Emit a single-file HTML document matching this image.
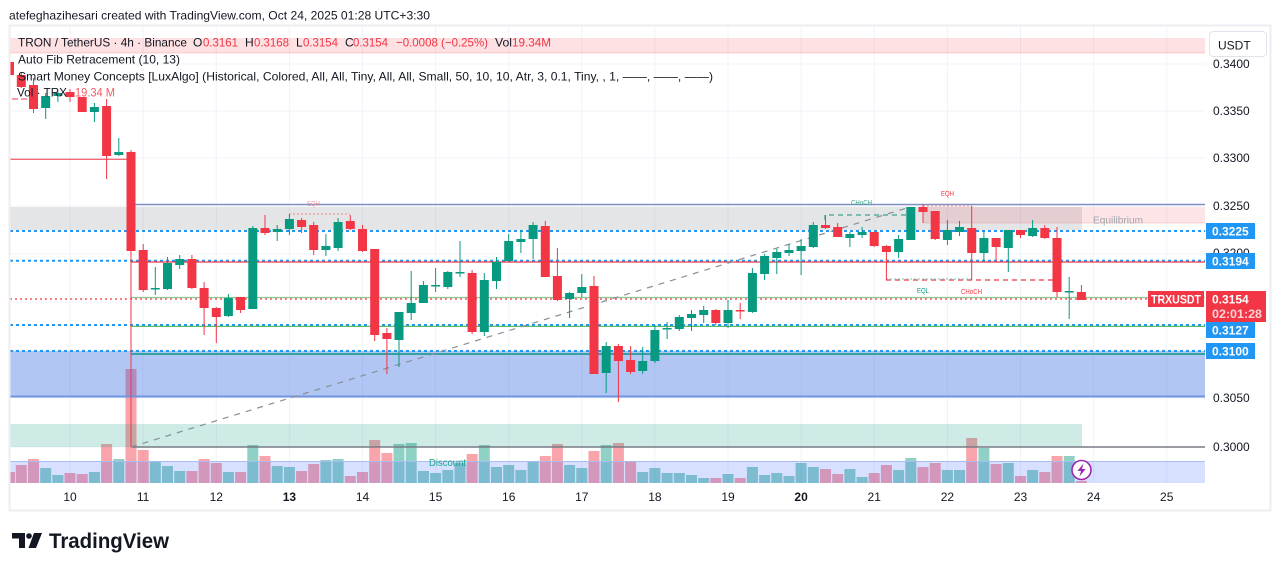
<!DOCTYPE html>
<html><head><meta charset="utf-8"><style>
html,body{margin:0;padding:0;background:#fff;}
svg{display:block;font-family:"Liberation Sans",Arial,sans-serif;}
</style></head><body>
<svg width="1281" height="571" viewBox="0 0 1281 571" xmlns="http://www.w3.org/2000/svg">
<rect width="1281" height="571" fill="#fff"/>
<!-- grid -->
<g stroke="#f0f3fa" stroke-width="1">
<path d="M10 64H1205M10 111H1205M10 158H1205M10 206H1205M10 254H1205M10 302H1205M10 350H1205M10 398H1205M10 447H1205"/>
<path d="M70 26V483M143.1 26V483M216.3 26V483M289.4 26V483M362.5 26V483M435.6 26V483M508.7 26V483M581.8 26V483M654.9 26V483M728 26V483M801.1 26V483M874.2 26V483M947.4 26V483M1020.5 26V483M1093.6 26V483M1166.7 26V483"/>
</g>
<!-- top fib band -->
<rect x="10" y="38" width="1195" height="15" fill="rgba(242,54,69,0.15)"/>
<line x1="10" y1="53" x2="1205" y2="53" stroke="rgba(242,54,69,0.2)"/>
<!-- volume -->
<g fill="rgba(242,54,69,0.45)">
<rect x="10" y="472" width="5" height="11"/>
<rect x="15.8" y="465" width="11" height="18"/><rect x="28" y="459" width="11" height="24"/><rect x="64.5" y="473" width="11" height="10"/><rect x="76.7" y="474" width="11" height="9"/><rect x="101.1" y="444" width="11" height="39"/><rect x="125.5" y="369" width="11" height="114"/><rect x="137.7" y="450" width="11" height="33"/><rect x="186.4" y="471" width="11" height="12"/><rect x="198.6" y="459" width="11" height="24"/><rect x="210.8" y="463" width="11" height="20"/><rect x="235.1" y="472" width="11" height="11"/><rect x="259.5" y="456" width="11" height="27"/><rect x="296.1" y="471" width="11" height="12"/><rect x="308.2" y="464" width="11" height="19"/><rect x="344.8" y="476" width="11" height="7"/><rect x="357" y="472" width="11" height="11"/><rect x="369.2" y="440" width="11" height="43"/><rect x="381.4" y="453" width="11" height="30"/><rect x="466.6" y="454" width="11" height="29"/><rect x="539.8" y="456" width="11" height="27"/><rect x="551.9" y="444" width="11" height="39"/><rect x="588.5" y="451" width="11" height="32"/><rect x="612.9" y="443" width="11" height="40"/><rect x="625.1" y="462" width="11" height="21"/><rect x="710.3" y="478" width="11" height="5"/><rect x="734.7" y="478" width="11" height="5"/><rect x="820" y="469" width="11" height="14"/><rect x="832.2" y="474" width="11" height="9"/><rect x="868.7" y="473" width="11" height="10"/><rect x="880.9" y="465" width="11" height="18"/><rect x="917.5" y="467" width="11" height="16"/><rect x="929.7" y="463" width="11" height="20"/><rect x="966.2" y="438" width="11" height="45"/><rect x="990.6" y="464" width="11" height="19"/><rect x="1015" y="476" width="11" height="7"/><rect x="1039.3" y="472" width="11" height="11"/><rect x="1051.5" y="456" width="11" height="27"/><rect x="1075.9" y="481" width="11" height="2"/>
</g>
<g fill="rgba(8,153,129,0.45)">
<rect x="40.2" y="468" width="11" height="15"/><rect x="52.4" y="475" width="11" height="8"/><rect x="88.9" y="472" width="11" height="11"/><rect x="113.3" y="459" width="11" height="24"/><rect x="149.8" y="462" width="11" height="21"/><rect x="162" y="466" width="11" height="17"/><rect x="174.2" y="471" width="11" height="12"/><rect x="222.9" y="472" width="11" height="11"/><rect x="247.3" y="445" width="11" height="38"/><rect x="271.7" y="466" width="11" height="17"/><rect x="283.9" y="467" width="11" height="16"/><rect x="320.4" y="460" width="11" height="23"/><rect x="332.6" y="459" width="11" height="24"/><rect x="393.5" y="444" width="11" height="39"/><rect x="405.7" y="443" width="11" height="40"/><rect x="417.9" y="471" width="11" height="12"/><rect x="430.1" y="473" width="11" height="10"/><rect x="442.3" y="470" width="11" height="13"/><rect x="454.5" y="463" width="11" height="20"/><rect x="478.8" y="445" width="11" height="38"/><rect x="491" y="467" width="11" height="16"/><rect x="503.2" y="465" width="11" height="18"/><rect x="515.4" y="470" width="11" height="13"/><rect x="527.6" y="461" width="11" height="22"/><rect x="564.1" y="465" width="11" height="18"/><rect x="576.3" y="468" width="11" height="15"/><rect x="600.7" y="445" width="11" height="38"/><rect x="637.2" y="472" width="11" height="11"/><rect x="649.4" y="468" width="11" height="15"/><rect x="661.6" y="473" width="11" height="10"/><rect x="673.8" y="473" width="11" height="10"/><rect x="686" y="475" width="11" height="8"/><rect x="698.2" y="478" width="11" height="5"/><rect x="722.5" y="474" width="11" height="9"/><rect x="746.9" y="467" width="11" height="16"/><rect x="759.1" y="475" width="11" height="8"/><rect x="771.3" y="473" width="11" height="10"/><rect x="783.5" y="476" width="11" height="7"/><rect x="795.6" y="463" width="11" height="20"/><rect x="807.8" y="467" width="11" height="16"/><rect x="844.4" y="469" width="11" height="14"/><rect x="856.6" y="477" width="11" height="6"/><rect x="893.1" y="470" width="11" height="13"/><rect x="905.3" y="458" width="11" height="25"/><rect x="941.9" y="470" width="11" height="13"/><rect x="954" y="470" width="11" height="13"/><rect x="978.4" y="448" width="11" height="35"/><rect x="1002.8" y="463" width="11" height="20"/><rect x="1027.1" y="470" width="11" height="13"/><rect x="1063.7" y="456" width="11" height="27"/>
</g>
<!-- zones -->
<rect x="10" y="207" width="1072" height="23" fill="rgba(120,123,134,0.2)"/>
<rect x="923" y="207" width="282" height="16" fill="rgba(242,54,69,0.13)"/>
<line x1="923" y1="223" x2="1205" y2="223" stroke="rgba(242,54,69,0.18)"/>
<rect x="10" y="351" width="1195" height="46" fill="rgba(45,100,225,0.37)"/>
<rect x="10" y="424" width="1072" height="23" fill="rgba(8,153,129,0.2)"/>
<rect x="10" y="461" width="1195" height="22" fill="rgba(41,98,255,0.19)"/>
<line x1="10" y1="461.5" x2="1205" y2="461.5" stroke="#a9bdf2" stroke-width="1"/>
<!-- lines -->
<line x1="10" y1="159.3" x2="130" y2="159.3" stroke="#f23645" stroke-width="1"/>
<line x1="135" y1="204.5" x2="1205" y2="204.5" stroke="#8390c4" stroke-width="1.5"/>
<g stroke="#2196f3" stroke-width="2" stroke-dasharray="3 3">
<line x1="10" y1="231" x2="1205" y2="231"/>
<line x1="10" y1="260.7" x2="1205" y2="260.7"/>
<line x1="10" y1="325" x2="1205" y2="325"/>
<line x1="10" y1="351" x2="1205" y2="351"/>
</g>
<line x1="131" y1="262" x2="1205" y2="262" stroke="#f23645" stroke-width="1.2"/>
<line x1="131" y1="297.5" x2="1205" y2="297.5" stroke="#8cc78e" stroke-width="1.2"/>
<line x1="131" y1="326.3" x2="1205" y2="326.3" stroke="#4caf50" stroke-width="1.2"/>
<line x1="131" y1="354" x2="1205" y2="354" stroke="#089981" stroke-width="1.5"/>
<line x1="10" y1="396.5" x2="1205" y2="396.5" stroke="#6f95e0" stroke-width="2"/>
<line x1="131" y1="447" x2="1205" y2="447" stroke="#787b86" stroke-width="1.5"/>
<line x1="10" y1="299" x2="1148" y2="299" stroke="#f23645" stroke-width="1.2" stroke-dasharray="2 3"/>
<line x1="131" y1="447" x2="910" y2="207" stroke="#8a8d96" stroke-width="1.2" stroke-dasharray="6 6"/>
<!-- SMC -->
<line x1="12" y1="99" x2="27" y2="99" stroke="#f23645" stroke-width="1" stroke-dasharray="6 3"/>
<line x1="289" y1="214" x2="350" y2="214" stroke="#f29ba3" stroke-width="1.2" stroke-dasharray="2 2"/>
<path d="M825 220V215H910" fill="none" stroke="#3aa58f" stroke-width="1.2" stroke-dasharray="5 4"/>
<line x1="923" y1="206" x2="972" y2="206" stroke="#f29ba3" stroke-width="1.2" stroke-dasharray="2 2"/>
<line x1="886" y1="280" x2="1055" y2="280" stroke="#f23645" stroke-width="1.2" stroke-dasharray="5 4"/>
<line x1="886" y1="279" x2="972" y2="279" stroke="#8ed2c4" stroke-width="1.2" stroke-dasharray="2 2"/>
<!-- candles -->
<rect x="10" y="62" width="4" height="13" fill="#f23645"/>
<path fill="none" stroke="#f23645" stroke-width="1" d="M21.3 72V88M33.5 78V113M70 89V102M82.2 97V112M106.6 99V179M131 150V447M143.2 244V292M191.9 255V289M204.1 282V335M216.3 307V343M240.6 297V313M265 215V235M301.6 218V233M313.7 222V255M350.3 215V230M362.5 225V252M374.7 249V341M386.9 328V374M472.1 270V334M545.3 221V277M557.4 248V301M594 276V374M618.4 344V402M630.6 346V374M715.8 309V325M740.2 303V319M825.5 215V229M837.7 223V237M874.2 232V247M886.4 245V280M923 204V223M935.2 211V240M971.7 206V280M996.1 238V261M1020.5 230V238M1044.8 225V239M1057 227V297M1081.4 285V300"/>
<g fill="#f23645">
<rect x="16.8" y="75" width="9" height="12"/><rect x="29" y="85" width="9" height="24"/><rect x="65.5" y="92" width="9" height="5"/><rect x="77.7" y="97" width="9" height="15"/><rect x="102.1" y="106" width="9" height="50"/><rect x="126.5" y="152" width="9" height="99"/><rect x="138.7" y="250" width="9" height="40"/><rect x="187.4" y="259" width="9" height="29"/><rect x="199.6" y="288" width="9" height="20"/><rect x="211.8" y="308" width="9" height="9"/><rect x="236.1" y="297" width="9" height="13"/><rect x="260.5" y="228" width="9" height="5"/><rect x="297.1" y="220" width="9" height="7"/><rect x="309.2" y="225" width="9" height="25"/><rect x="345.8" y="221" width="9" height="8"/><rect x="358" y="229" width="9" height="22"/><rect x="370.2" y="249" width="9" height="86"/><rect x="382.4" y="333" width="9" height="6"/><rect x="467.6" y="273" width="9" height="59"/><rect x="540.8" y="226" width="9" height="51"/><rect x="552.9" y="276" width="9" height="24"/><rect x="589.5" y="286" width="9" height="88"/><rect x="613.9" y="346" width="9" height="15"/><rect x="626.1" y="360" width="9" height="12"/><rect x="711.3" y="310" width="9" height="13"/><rect x="735.7" y="310" width="9" height="1.5"/><rect x="821" y="225" width="9" height="3"/><rect x="833.2" y="227" width="9" height="10"/><rect x="869.7" y="232" width="9" height="14"/><rect x="881.9" y="246" width="9" height="6"/><rect x="918.5" y="207" width="9" height="5"/><rect x="930.7" y="211" width="9" height="28"/><rect x="967.2" y="228" width="9" height="25"/><rect x="991.6" y="238" width="9" height="9"/><rect x="1016" y="230" width="9" height="5"/><rect x="1040.3" y="228" width="9" height="10"/><rect x="1052.5" y="238" width="9" height="54"/><rect x="1076.9" y="292" width="9" height="8"/>
</g>
<path fill="none" stroke="#089981" stroke-width="1" d="M45.7 93V119M57.9 92V102M94.4 103V122M118.8 138V156M155.3 267V295M167.5 257V290M179.7 255V269M228.4 294V317M252.8 226V309M277.2 225V241M289.4 214V235M325.9 234V256M338.1 218V251M399 312V367M411.2 271V320M423.4 281V303M435.6 268V292M447.8 271V289M460 241V277M484.3 273V336M496.5 257V289M508.7 234V261M520.9 230V253M533.1 222V259M569.6 292V318M581.8 274V297M606.2 342V393M642.7 347V374M654.9 325V363M667.1 322V339M679.3 315V331M691.5 310V331M703.7 306V323M728 300V328M752.4 268V313M764.6 254V280M776.8 249V274M789 244V256M801.1 239V275M813.3 222V248M849.9 232V247M862.1 227V238M898.6 235V258M910.8 207V240M947.4 220V245M959.5 221V236M983.9 231V261M1008.3 230V272M1032.6 220V237M1069.2 277V319"/>
<g fill="#089981">
<rect x="41.2" y="96" width="9" height="12"/><rect x="53.4" y="93" width="9" height="3"/><rect x="89.9" y="107" width="9" height="5"/><rect x="114.3" y="152" width="9" height="3"/><rect x="150.8" y="288" width="9" height="1.5"/><rect x="163" y="263" width="9" height="26"/><rect x="175.2" y="259" width="9" height="6"/><rect x="223.9" y="298" width="9" height="18"/><rect x="248.3" y="228" width="9" height="81"/><rect x="272.7" y="229" width="9" height="3"/><rect x="284.9" y="219" width="9" height="10"/><rect x="321.4" y="246" width="9" height="4"/><rect x="333.6" y="222" width="9" height="26"/><rect x="394.5" y="312" width="9" height="28"/><rect x="406.7" y="303" width="9" height="10"/><rect x="418.9" y="285" width="9" height="18"/><rect x="431.1" y="285" width="9" height="1.5"/><rect x="443.3" y="272" width="9" height="15"/><rect x="455.5" y="272" width="9" height="1.5"/><rect x="479.8" y="280" width="9" height="52"/><rect x="492" y="262" width="9" height="19"/><rect x="504.2" y="241" width="9" height="20"/><rect x="516.4" y="239" width="9" height="3"/><rect x="528.6" y="225" width="9" height="14"/><rect x="565.1" y="293" width="9" height="6"/><rect x="577.3" y="287" width="9" height="6"/><rect x="601.7" y="346" width="9" height="27"/><rect x="638.2" y="361" width="9" height="10"/><rect x="650.4" y="330" width="9" height="31"/><rect x="662.6" y="328" width="9" height="1.5"/><rect x="674.8" y="317" width="9" height="12"/><rect x="687" y="314" width="9" height="4"/><rect x="699.2" y="310" width="9" height="5"/><rect x="723.5" y="310" width="9" height="13"/><rect x="747.9" y="273" width="9" height="39"/><rect x="760.1" y="256" width="9" height="18"/><rect x="772.3" y="252" width="9" height="6"/><rect x="784.5" y="250" width="9" height="3"/><rect x="796.6" y="246" width="9" height="5"/><rect x="808.8" y="225" width="9" height="22"/><rect x="845.4" y="234" width="9" height="4"/><rect x="857.6" y="232" width="9" height="3"/><rect x="894.1" y="239" width="9" height="13"/><rect x="906.3" y="207" width="9" height="33"/><rect x="942.9" y="230" width="9" height="10"/><rect x="955" y="227" width="9" height="5"/><rect x="979.4" y="238" width="9" height="15"/><rect x="1003.8" y="230" width="9" height="18"/><rect x="1028.1" y="228" width="9" height="8"/><rect x="1064.7" y="291" width="9" height="1.5"/>
</g>
<!-- SMC labels -->
<g font-size="7">
<text x="307" y="206" fill="#f29ba3" textLength="13" lengthAdjust="spacingAndGlyphs">EQH</text>
<text x="851" y="205" fill="#3aa58f" textLength="21" lengthAdjust="spacingAndGlyphs">CHoCH</text>
<text x="941" y="196" fill="#f23645" textLength="13" lengthAdjust="spacingAndGlyphs">EQH</text>
<text x="917" y="293" fill="#089981" textLength="12" lengthAdjust="spacingAndGlyphs">EQL</text>
<text x="961" y="294" fill="#f23645" textLength="21" lengthAdjust="spacingAndGlyphs">CHoCH</text>
</g>
<text x="1093" y="223.5" font-size="10" fill="#a3a6ae" textLength="50" lengthAdjust="spacingAndGlyphs">Equilibrium</text>
<text x="429" y="466" font-size="10" fill="#17a78e" textLength="37" lengthAdjust="spacingAndGlyphs">Discount</text>
<!-- lightning icon -->
<circle cx="1081.5" cy="470" r="9.5" fill="#fff" stroke="#9c27b0" stroke-width="1.6"/>
<path d="M1083.5 463.5L1077.5 471H1081L1079.5 476.5L1085.5 469H1082Z" fill="#9c27b0"/>
<!-- header & legend -->
<text x="9" y="19.5" font-size="12" fill="#131722" textLength="421" lengthAdjust="spacingAndGlyphs">atefeghazihesari created with TradingView.com, Oct 24, 2025 01:28 UTC+3:30</text>
<g font-size="12" fill="#131722">
<text x="18" y="46.7" textLength="169" lengthAdjust="spacingAndGlyphs">TRON / TetherUS · 4h · Binance</text>
<text x="193" y="46.7">O</text><text x="203" y="46.7" fill="#f23645" textLength="35" lengthAdjust="spacingAndGlyphs">0.3161</text>
<text x="245" y="46.7">H</text><text x="254" y="46.7" fill="#f23645" textLength="35" lengthAdjust="spacingAndGlyphs">0.3168</text>
<text x="296" y="46.7">L</text><text x="303" y="46.7" fill="#f23645" textLength="35" lengthAdjust="spacingAndGlyphs">0.3154</text>
<text x="345" y="46.7">C</text><text x="353" y="46.7" fill="#f23645" textLength="35" lengthAdjust="spacingAndGlyphs">0.3154</text>
<text x="396" y="46.7" fill="#f23645" textLength="92" lengthAdjust="spacingAndGlyphs">−0.0008 (−0.25%)</text>
<text x="495" y="46.7" textLength="17" lengthAdjust="spacingAndGlyphs">Vol</text><text x="512" y="46.7" fill="#f23645" textLength="39" lengthAdjust="spacingAndGlyphs">19.34M</text>
<text x="18" y="63.3" textLength="162" lengthAdjust="spacingAndGlyphs">Auto Fib Retracement (10, 13)</text>
<text x="18" y="80.7" textLength="695" lengthAdjust="spacingAndGlyphs">Smart Money Concepts [LuxAlgo] (Historical, Colored, All, All, Tiny, All, All, Small, 50, 10, 10, Atr, 3, 0.1, Tiny, , 1, ——, ——, ——)</text>
<text x="17" y="96.7" textLength="50" lengthAdjust="spacingAndGlyphs">Vol · TRX</text>
<text x="75" y="96.7" fill="#f45b67" textLength="40" lengthAdjust="spacingAndGlyphs">19.34 M</text>
</g>
<!-- price axis -->
<g font-size="12" fill="#131722">
<text x="1213" y="68">0.3400</text>
<text x="1213" y="115">0.3350</text>
<text x="1213" y="162">0.3300</text>
<text x="1213" y="210">0.3250</text>
<text x="1213" y="257">0.3200</text>
<text x="1213" y="402">0.3050</text>
<text x="1213" y="451">0.3000</text>
</g>
<rect x="1209.5" y="31.5" width="57" height="25" rx="4" fill="#fff" stroke="#e0e3eb"/>
<text x="1218" y="49.5" font-size="12" fill="#131722">USDT</text>
<g font-size="12" font-weight="bold" fill="#fff">
<rect x="1206" y="223" width="49" height="16" fill="#2196f3"/><text x="1212" y="235.5">0.3225</text>
<rect x="1206" y="253" width="49" height="16" fill="#2196f3"/><text x="1212" y="265.5">0.3194</text>
<rect x="1206" y="322" width="49" height="16" fill="#2196f3"/><text x="1212" y="334.5">0.3127</text>
<rect x="1206" y="343" width="49" height="16" fill="#2196f3"/><text x="1212" y="355.5">0.3100</text>
<rect x="1206" y="291" width="60" height="31" fill="#f23645"/><text x="1212" y="303.5">0.3154</text>
<text x="1212" y="318" fill="#fcd4d7" textLength="50" lengthAdjust="spacingAndGlyphs">02:01:28</text>
<rect x="1148" y="291" width="56" height="16" fill="#f23645"/><text x="1151" y="303.5" textLength="50" lengthAdjust="spacingAndGlyphs">TRXUSDT</text>
</g>
<!-- time axis -->
<g font-size="12" fill="#131722" text-anchor="middle">
<text x="70" y="501">10</text><text x="143.1" y="501">11</text><text x="216.3" y="501">12</text><text x="289.4" y="501" font-weight="bold">13</text><text x="362.5" y="501">14</text><text x="435.6" y="501">15</text><text x="508.7" y="501">16</text><text x="581.8" y="501">17</text><text x="654.9" y="501">18</text><text x="728" y="501">19</text><text x="801.1" y="501" font-weight="bold">20</text><text x="874.2" y="501">21</text><text x="947.4" y="501">22</text><text x="1020.5" y="501">23</text><text x="1093.6" y="501">24</text><text x="1166.7" y="501">25</text>
</g>
<!-- frame -->
<rect x="9.5" y="25.5" width="1261" height="485" fill="none" stroke="#eceef2" stroke-width="2"/>
<!-- logo -->
<g fill="#131722">
<path d="M12 533H25V548H19V538.5H12Z"/>
<circle cx="29" cy="536" r="2.8"/>
<path d="M34 533H42L36 548H28.5Z"/>
</g>
<text x="49" y="548" font-size="21" font-weight="bold" fill="#131722" textLength="120" lengthAdjust="spacingAndGlyphs">TradingView</text>
</svg>
</body></html>
